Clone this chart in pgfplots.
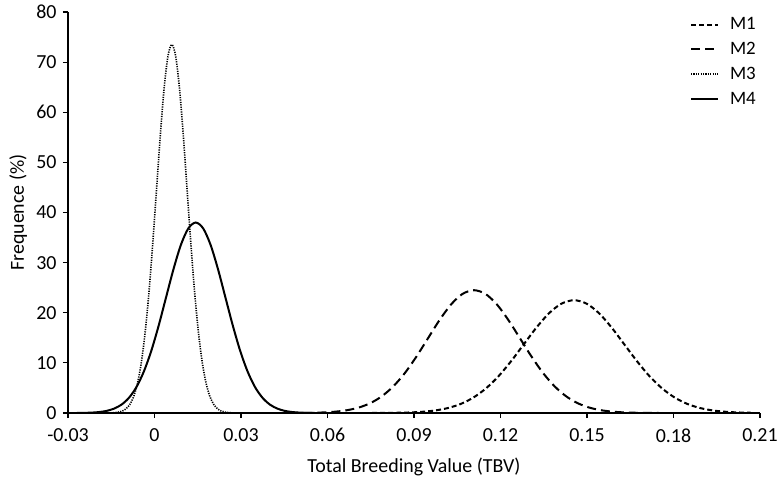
\documentclass[border=0pt]{standalone}
\usepackage{fontspec}
\setmainfont{Carlito}
\usepackage{pgfplots}
\pgfplotsset{compat=1.18}
\begin{document}
\begin{tikzpicture}[font=\fontsize{20}{23}\selectfont]
\begin{axis}[
  name=ax,
  width=692bp, height=401bp, scale only axis,
  xmin=-0.03, xmax=0.21, ymin=0, ymax=80,
  axis x line=bottom, axis y line=left,
  axis line style={-, line width=1.4bp, black},
  xtick={-0.03,0,0.03,0.06,0.09,0.12,0.15,0.18,0.21},
  xticklabels={-0.03,0,0.03,0.06,0.09,0.12,0.15,0.18,0.21},
  ytick={0,10,20,30,40,50,60,70,80},
  /pgf/number format/assume math mode=true,
  tick align=outside, major tick length=5bp,
  tick style={line width=1.2bp, black},
  xticklabel shift=7bp,
  yticklabel shift=3bp,
  xlabel={Total Breeding Value (TBV)},
  ylabel={Frequence (\%)},
  xlabel style={at={(axis description cs:0.5,-0.1347)}, anchor=center},
  ylabel style={at={(axis description cs:-0.072,0.5)}, anchor=center},
  legend style={at={(axis cs:0.21,80)}, anchor=north east, draw=none, fill=none,
    font=\fontsize{19}{21}\selectfont, row sep=7bp, cells={anchor=west},
    inner xsep=2bp, inner ysep=3.5bp},
  legend image code/.code={\draw[#1] (0bp,0bp) -- (27bp,0bp); \path (36bp,0bp);},
  every axis plot/.append style={line width=2bp, black},
]
\addplot[smooth, dash pattern=on 5bp off 3bp] coordinates {
(0.0755,0.01) (0.07988,0.02) (0.08425,0.05) (0.08863,0.11) (0.093,0.25) (0.09738,0.51) (0.10175,0.99) (0.10613,1.79) (0.1105,3.05) (0.11488,4.87) (0.11925,7.30) (0.12363,10.30) (0.128,13.65) (0.13238,16.98) (0.13675,19.86) (0.14113,21.81) (0.1455,22.50) (0.14988,21.81) (0.15425,19.86) (0.15863,16.98) (0.163,13.65) (0.16738,10.30) (0.17175,7.30) (0.17613,4.87) (0.1805,3.05) (0.18488,1.79) (0.18925,0.99) (0.19363,0.51) (0.198,0.25) (0.20238,0.11) (0.20675,0.05)
};
\addlegendentry{M1}
\addplot[smooth, dash pattern=on 9bp off 5bp] coordinates {
(0.0468,0.01) (0.0508,0.02) (0.0548,0.05) (0.0588,0.12) (0.0628,0.27) (0.0668,0.56) (0.0708,1.08) (0.0748,1.95) (0.0788,3.32) (0.0828,5.30) (0.0868,7.95) (0.0908,11.22) (0.0948,14.86) (0.0988,18.49) (0.1028,21.62) (0.1068,23.75) (0.1108,24.50) (0.1148,23.75) (0.1188,21.62) (0.1228,18.49) (0.1268,14.86) (0.1308,11.22) (0.1348,7.95) (0.1388,5.30) (0.1428,3.32) (0.1468,1.95) (0.1508,1.08) (0.1548,0.56) (0.1588,0.27) (0.1628,0.12) (0.1668,0.05) (0.1708,0.02) (0.1748,0.01)
};
\addlegendentry{M2}
\addplot[smooth, line width=1.6bp, dash pattern=on 1.2bp off 1.2bp] coordinates {
(-0.0152,0.02) (-0.01388,0.06) (-0.01255,0.16) (-0.01123,0.37) (-0.0099,0.82) (-0.00858,1.68) (-0.00725,3.23) (-0.00593,5.85) (-0.0046,9.95) (-0.00328,15.90) (-0.00195,23.86) (-0.00063,33.65) (0.0007,44.58) (0.00203,55.48) (0.00335,64.86) (0.00468,71.24) (0.006,73.50) (0.00733,71.24) (0.00865,64.86) (0.00998,55.48) (0.0113,44.58) (0.01263,33.65) (0.01395,23.86) (0.01528,15.90) (0.0166,9.95) (0.01793,5.85) (0.01925,3.23) (0.02058,1.68) (0.0219,0.82) (0.02323,0.37) (0.02455,0.16) (0.02588,0.06) (0.0272,0.02)
};
\addlegendentry{M3}
\addplot[smooth] coordinates {
(-0.0269,0.01) (-0.02433,0.03) (-0.02175,0.08) (-0.01918,0.19) (-0.0166,0.42) (-0.01403,0.87) (-0.01145,1.67) (-0.00888,3.02) (-0.0063,5.14) (-0.00373,8.22) (-0.00115,12.34) (0.00143,17.40) (0.004,23.05) (0.00658,28.68) (0.00915,33.54) (0.01173,36.83) (0.0143,38.00) (0.01688,36.83) (0.01945,33.54) (0.02203,28.68) (0.0246,23.05) (0.02718,17.40) (0.02975,12.34) (0.03233,8.22) (0.0349,5.14) (0.03748,3.02) (0.04005,1.67) (0.04263,0.87) (0.0452,0.42) (0.04778,0.19) (0.05035,0.08) (0.05293,0.03) (0.0555,0.01)
};
\addlegendentry{M4}
\end{axis}
\pgfresetboundingbox
\path[use as bounding box] ([shift={(-68bp,-65bp)}]ax.south west) rectangle ([shift={(19bp,12bp)}]ax.north east);
\end{tikzpicture}
\end{document}
